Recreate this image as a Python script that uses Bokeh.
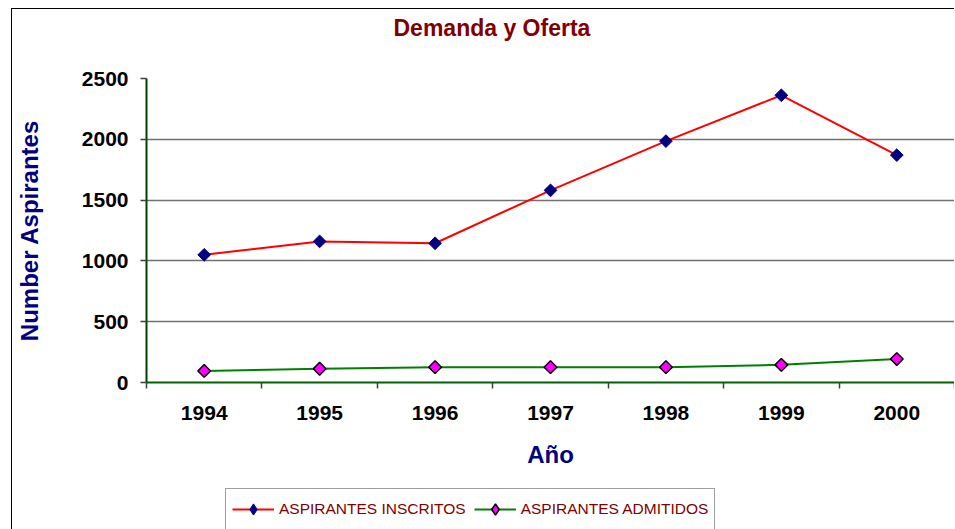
import numpy as np
from bokeh.plotting import figure
from bokeh.layouts import column
from bokeh.models import Range1d, FixedTicker, Grid, Legend, LegendItem, Title
from bokeh.embed import file_html
from bokeh.resources import INLINE

years = [1994, 1995, 1996, 1997, 1998, 1999, 2000]
inscritos = [1050, 1160, 1145, 1580, 1985, 2362, 1870]
admitidos = [95, 113, 126, 126, 126, 145, 193]
y_ticks = [0, 500, 1000, 1500, 2000, 2500]

title = "Demanda y Oferta"
x_label = "Año"
y_label = "Number Aspirantes"
names = ["ASPIRANTES INSCRITOS", "ASPIRANTES ADMITIDOS"]

p = figure(frame_width=808, frame_height=304, output_backend="svg", toolbar_location=None,
           x_range=Range1d(years[0] - 0.5, years[-1] + 0.5),
           y_range=Range1d(y_ticks[0], y_ticks[-1]),
           min_border_left=133, min_border_top=69, min_border_right=0,
           min_border_bottom=106)
p.outline_line_color = None
p.background_fill_color = "white"
p.border_fill_color = "white"
p.title.text = ""

# spacer between frame and title, then the title itself
p.add_layout(Title(text=" ", text_font_size="16px", standoff=13), "above")
p.add_layout(Title(text=title, align="left", offset=247, vertical_align="top",
                   standoff=8, text_font="Liberation Sans", text_font_style="bold",
                   text_font_size="23px", text_color="#800000"), "above")

# axes
p.xaxis.ticker = FixedTicker(ticks=years, minor_ticks=[y - 0.5 for y in years] + [years[-1] + 0.5])
p.xaxis.major_tick_out = 0
p.xaxis.major_tick_in = 0
p.xaxis.minor_tick_out = 6
p.xaxis.minor_tick_in = 0
p.xaxis.minor_tick_line_color = "#404040"
p.xaxis.minor_tick_line_width = 1.5
p.xaxis.axis_line_color = "#006400"
p.xaxis.axis_line_width = 2
p.xaxis.major_label_standoff = 17
p.xaxis.axis_label = x_label
p.xaxis.axis_label_standoff = 18

p.yaxis.ticker = FixedTicker(ticks=y_ticks)
p.yaxis.major_tick_out = 6
p.yaxis.major_tick_in = 0
p.yaxis.minor_tick_out = 0
p.yaxis.minor_tick_in = 0
p.yaxis.major_tick_line_color = "#404040"
p.yaxis.major_tick_line_width = 1.5
p.yaxis.axis_line_color = "#004000"
p.yaxis.axis_line_width = 2
p.yaxis.major_label_standoff = 12
p.yaxis.axis_label = y_label
p.yaxis.axis_label_standoff = 36

for ax in (p.xaxis[0], p.yaxis[0]):
    ax.major_label_text_font = "Liberation Sans"
    ax.major_label_text_font_style = "bold"
    ax.major_label_text_font_size = "21px"
    ax.major_label_text_color = "black"
    ax.axis_label_text_font = "Liberation Sans"
    ax.axis_label_text_font_style = "bold"
    ax.axis_label_text_font_size = "24px"
    ax.axis_label_text_color = "#000080"

p.xgrid.visible = False
p.ygrid.ticker = FixedTicker(ticks=y_ticks[1:-1])
p.ygrid.grid_line_color = "#707070"
p.ygrid.grid_line_width = 1.5
p.add_layout(Grid(dimension=1, ticker=FixedTicker(ticks=[y_ticks[-1]]),
                  grid_line_color="#008000", grid_line_width=3))

# series
line_styles = [dict(line_color="red", line_width=2), dict(line_color="#008000", line_width=2)]
marker_colors = [dict(fill_color="#000080", line_color="#000080", line_width=1),
                 dict(fill_color="#FF00FF", line_color="black", line_width=1.5)]
for vals, ls, mc in zip([inscritos, admitidos], line_styles, marker_colors):
    p.line(years, vals, **ls)
    p.scatter(years, vals, marker="square", angle=np.pi / 4, size=9, **mc)

# legend strip below the chart (own figure so it is not clipped);
# its series lie outside this strip's ranges, only the legend is visible
q = figure(frame_width=941, frame_height=41, output_backend="svg", toolbar_location=None,
           x_axis_location=None, y_axis_location=None,
           x_range=Range1d(0, 1), y_range=Range1d(0, 1),
           min_border_left=0, min_border_right=0, min_border_top=0, min_border_bottom=0)
q.outline_line_color = None
q.background_fill_color = "white"
q.border_fill_color = "white"
q.grid.visible = False
items = []
for name, vals, ls, mc in zip(names, [inscritos, admitidos], line_styles, marker_colors):
    r1 = q.line(years, vals, **ls)
    r2 = q.scatter(years, vals, marker="diamond", size=14, **mc)
    items.append(LegendItem(label=name, renderers=[r1, r2]))
legend = Legend(items=items, location=(213, -1), orientation="horizontal",
                glyph_width=42, glyph_height=28, label_height=28,
                label_standoff=5, spacing=8, padding=6, margin=0,
                label_text_font="Liberation Sans",
                label_text_font_size="15.5px", label_text_color="#800000",
                border_line_color="#404040", border_line_width=1,
                background_fill_color="white", background_fill_alpha=1)
q.add_layout(legend)

layout = column(p, q, spacing=0,
                styles={"margin-left": "11px", "margin-top": "8px",
                        "border-left": "1px solid black", "border-top": "1px solid black"})

open("out.html", "w").write(file_html(layout, INLINE))
